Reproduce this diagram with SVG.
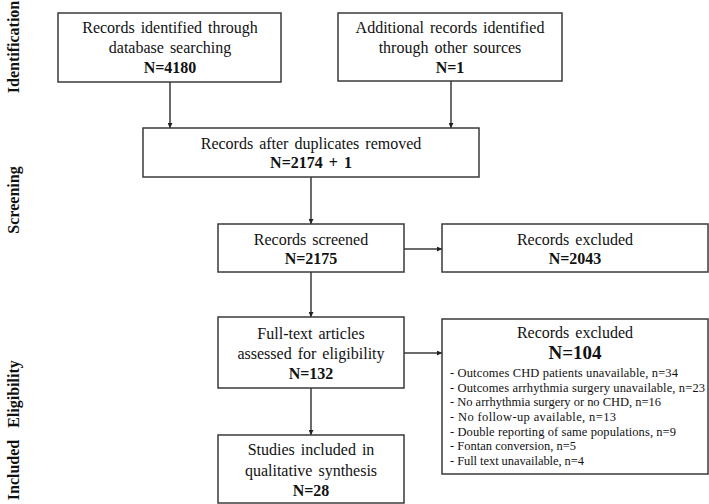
<svg xmlns="http://www.w3.org/2000/svg" width="709" height="504" viewBox="0 0 709 504" font-family="'Liberation Serif', Tinos, 'Times New Roman', Times, 'DejaVu Serif', serif">
<style>
  .box { fill: #ffffff; stroke: #3a3a3a; stroke-width: 1.5; }
  .t { font-family: "Liberation Serif", Tinos, "Times New Roman", Times, "DejaVu Serif", serif; font-size: 16px; fill: #111; text-anchor: middle; word-spacing: 2px; }
  .b { font-weight: bold; }
  .side { font-family: "Liberation Serif", Tinos, "Times New Roman", Times, "DejaVu Serif", serif; font-size: 16px; font-weight: bold; fill: #111; text-anchor: middle; }
  .li { font-family: "Liberation Serif", Tinos, "Times New Roman", Times, "DejaVu Serif", serif; font-size: 12.5px; fill: #111; }
  .conn { stroke: #3a3a3a; stroke-width: 1.5; fill: none; marker-end: url(#ah); }
</style>
<defs>
  <marker id="ah" viewBox="0 0 10 10" refX="10" refY="5" markerWidth="5" markerHeight="5" orient="auto" markerUnits="userSpaceOnUse">
    <path d="M0,0 L10,5 L0,10 z" fill="#222"/>
  </marker>
</defs>
<rect width="709" height="504" fill="#ffffff"/>

<g id="side-labels">
  <text class="side" transform="translate(19,47) rotate(-90)">Identification</text>
  <text class="side" transform="translate(19,200) rotate(-90)">Screening</text>
  <text class="side" transform="translate(19,394) rotate(-90)">Eligibility</text>
  <text class="side" transform="translate(19,470) rotate(-90)">Included</text>
</g>

<g id="connectors">
  <path class="conn" d="M170,82 L170,128"/>
  <path class="conn" d="M451,81 L451,128"/>
  <path class="conn" d="M311,177 L311,224"/>
  <path class="conn" d="M404,249 L442,249"/>
  <path class="conn" d="M311,272 L311,317"/>
  <path class="conn" d="M404,353 L442,353"/>
  <path class="conn" d="M311,388 L311,435"/>
</g>

<g id="n-database">
  <rect class="box" x="58" y="13" width="223" height="69"/>
  <text class="t" x="170" y="33">Records identified through</text>
  <text class="t" x="170" y="53">database searching</text>
  <text class="t b" x="170" y="73">N=4180</text>
</g>

<g id="n-other">
  <rect class="box" x="338" y="13" width="224" height="68"/>
  <text class="t" x="450" y="33">Additional records identified</text>
  <text class="t" x="450" y="53">through other sources</text>
  <text class="t b" x="450" y="73">N=1</text>
</g>

<g id="n-duplicates">
  <rect class="box" x="143" y="128" width="336" height="49"/>
  <text class="t" x="311" y="149">Records after duplicates removed</text>
  <text class="t b" x="311" y="168">N=2174 + 1</text>
</g>

<g id="n-screened">
  <rect class="box" x="218" y="224" width="186" height="48"/>
  <text class="t" x="311" y="245">Records screened</text>
  <text class="t b" x="311" y="264">N=2175</text>
</g>

<g id="n-excluded1">
  <rect class="box" x="442" y="224" width="266" height="48"/>
  <text class="t" x="575" y="245">Records excluded</text>
  <text class="t b" x="575" y="264">N=2043</text>
</g>

<g id="n-fulltext">
  <rect class="box" x="218" y="317" width="186" height="71"/>
  <text class="t" x="311" y="339">Full-text articles</text>
  <text class="t" x="311" y="359">assessed  for eligibility</text>
  <text class="t b" x="311" y="379">N=132</text>
</g>

<g id="n-excluded2">
  <rect class="box" x="442" y="319" width="266" height="155"/>
  <text class="t" x="575" y="338">Records excluded</text>
  <text class="t b" x="575" y="359" style="font-size:19px">N=104</text>
  <text class="li" x="450" y="377" textLength="228" lengthAdjust="spacing">- Outcomes CHD patients unavailable, n=34</text>
  <text class="li" x="450" y="391.5" textLength="255" lengthAdjust="spacing">- Outcomes arrhythmia surgery unavailable, n=23</text>
  <text class="li" x="450" y="406" textLength="211" lengthAdjust="spacing">- No arrhythmia surgery or no CHD, n=16</text>
  <text class="li" x="450" y="421" textLength="166" lengthAdjust="spacing">- No follow-up available, n=13</text>
  <text class="li" x="450" y="435.5" textLength="226" lengthAdjust="spacing">- Double reporting of same populations, n=9</text>
  <text class="li" x="450" y="450" textLength="126" lengthAdjust="spacing">- Fontan conversion, n=5</text>
  <text class="li" x="450" y="465" textLength="134" lengthAdjust="spacing">- Full text unavailable, n=4</text>
</g>

<g id="n-included">
  <rect class="box" x="218" y="435" width="186" height="68"/>
  <text class="t" x="311" y="455">Studies included in</text>
  <text class="t" x="311" y="476">qualitative synthesis</text>
  <text class="t b" x="311" y="496">N=28</text>
</g>
</svg>
